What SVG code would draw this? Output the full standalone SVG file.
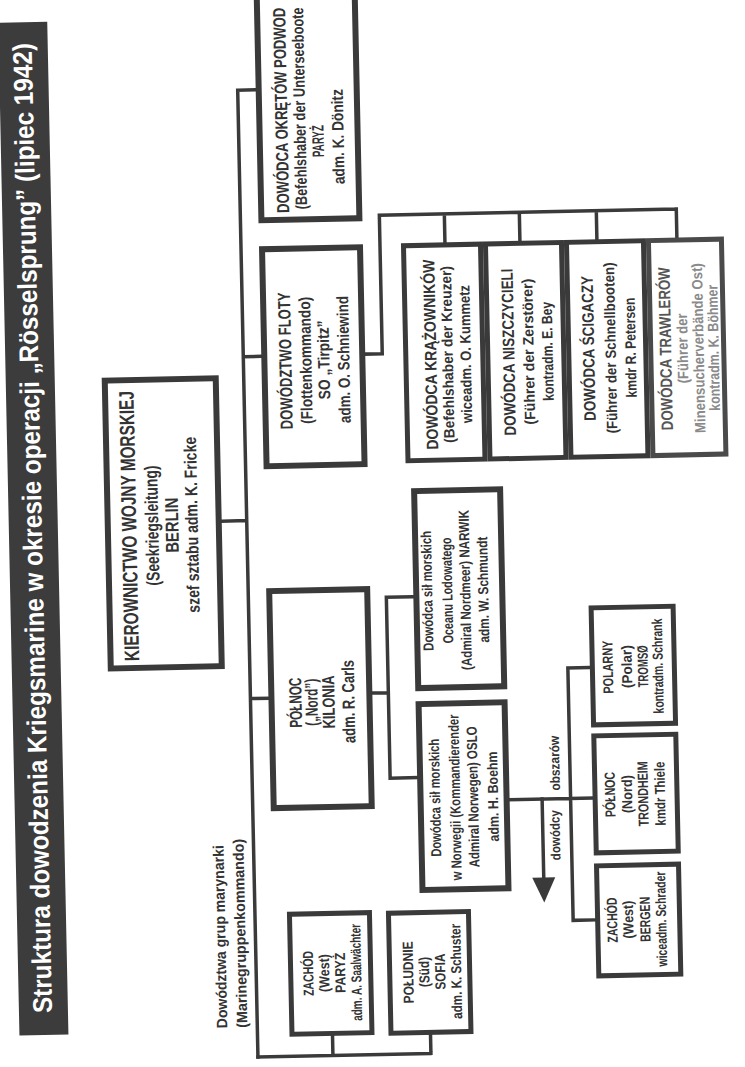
<svg xmlns="http://www.w3.org/2000/svg" width="745" height="1067" viewBox="0 0 745 1067">
<style>
.bx{fill:#fff;stroke:#3a3a3a;stroke-width:6}
.sb{fill:#fff;stroke:#3a3a3a;stroke-width:5}
.ln{fill:none;stroke:#3a3a3a;stroke-width:3.5;stroke-linecap:square;stroke-linejoin:miter}
text{font-family:"Liberation Sans Narrow","Liberation Sans",Arial,sans-serif;font-weight:bold;fill:#333;text-anchor:middle;dominant-baseline:central}
.s19{font-size:21px}.s17{font-size:18.5px}.s16{font-size:17.5px}.s15{font-size:16.5px}.s14{font-size:15px}.s13{font-size:14.5px}.s12{font-size:13.5px}
.st{text-anchor:start}
.fade{fill:#8a8a8a}
.title{font-size:27px;fill:#fff}
</style>
<rect width="745" height="1067" fill="#fff"/>
<g transform="rotate(-1.2 372 533)">
<g id="title">
<rect x="9" y="15" width="49" height="1013" fill="#3c3c3c"/>
<text class="title" transform="translate(33 521) rotate(-90)" textLength="970" lengthAdjust="spacingAndGlyphs">Struktura dowodzenia Kriegsmarine w okresie operacji „Rösselsprung” (lipiec 1942)</text>
</g>
<g id="connectors">
<path class="ln" d="M222 518H247M247 87.5V1054.5M247 87.5H265M247 354H265M247 696H265"/>
<path class="ln" d="M247 1054.5H420M322 1054.5V1034M420 1054.5V1035"/>
<path class="ln" d="M369 354H386V215.5H683M451 215.5V244M526 215.5V244M603 215.5V244M683 215.5V244"/>
<path class="ln" d="M368 693H385M385 597.5V778.5M385 597.5H412M385 778.5H412"/>
<path class="ln" d="M504 802.5H588M565 672V924.5M565 672H587M565 924.5H587"/>
<path class="ln" d="M536.5 802.5V884"/>
<polygon points="525,881 548,881 536.5,906" fill="#3a3a3a"/>
</g>
<g id="label-grupy">
<text class="s14 st" transform="translate(211.5 1025) rotate(-90)" textLength="183" lengthAdjust="spacingAndGlyphs">Dowództwa grup marynarki</text>
<text class="s14 st" transform="translate(231.5 1025) rotate(-90)" textLength="189" lengthAdjust="spacingAndGlyphs">(Marinegruppenkommando)</text>
</g>
<g id="skl">
<rect class="bx" x="108" y="375" width="111" height="288"/>
<text class="s19" transform="translate(129 521) rotate(-90)" textLength="270" lengthAdjust="spacingAndGlyphs">KIEROWNICTWO WOJNY MORSKIEJ</text>
<text class="s17" transform="translate(152 521) rotate(-90)" textLength="120" lengthAdjust="spacingAndGlyphs">(Seekriegsleitung)</text>
<text class="s17" transform="translate(172 521) rotate(-90)" textLength="55" lengthAdjust="spacingAndGlyphs">BERLIN</text>
<text class="s16" transform="translate(192 521) rotate(-90)" textLength="176" lengthAdjust="spacingAndGlyphs">szef sztabu adm. K. Fricke</text>
</g>
<g id="uboote">
<rect class="bx" x="268" y="-100" width="98" height="318"/>
<text class="s16 st" transform="translate(290 211) rotate(-90)" textLength="205" lengthAdjust="spacingAndGlyphs">DOWÓDCA OKRĘTÓW PODWOD</text>
<text class="s15 st" transform="translate(308 208) rotate(-90)" textLength="202" lengthAdjust="spacingAndGlyphs">(Befehlshaber der Unterseeboote</text>
<text class="s15" transform="translate(326 140) rotate(-90)" textLength="32" lengthAdjust="spacingAndGlyphs">PARYŻ</text>
<text class="s15" transform="translate(346 136) rotate(-90)" textLength="95" lengthAdjust="spacingAndGlyphs">adm. K. Dönitz</text>
</g>
<g id="floty">
<rect class="bx" x="268" y="247" width="98" height="217"/>
<text class="s16" transform="translate(289 359) rotate(-90)" textLength="137" lengthAdjust="spacingAndGlyphs">DOWÓDZTWO FLOTY</text>
<text class="s15" transform="translate(309 359) rotate(-90)" textLength="127" lengthAdjust="spacingAndGlyphs">(Flottenkommando)</text>
<text class="s15" transform="translate(327 359) rotate(-90)" textLength="79" lengthAdjust="spacingAndGlyphs">SO „Tirpitz”</text>
<text class="s15" transform="translate(347 359) rotate(-90)" textLength="127" lengthAdjust="spacingAndGlyphs">adm. O. Schniewind</text>
</g>
<g id="polnoc">
<rect class="bx" x="268" y="589" width="98" height="217"/>
<text class="s16" transform="translate(292 701) rotate(-90)" textLength="50" lengthAdjust="spacingAndGlyphs">PÓŁNOC</text>
<text class="s16" transform="translate(308 701) rotate(-90)" textLength="47" lengthAdjust="spacingAndGlyphs">(„Nord”)</text>
<text class="s16" transform="translate(325 701) rotate(-90)" textLength="53" lengthAdjust="spacingAndGlyphs">KILONIA</text>
<text class="s16" transform="translate(345 701) rotate(-90)" textLength="83" lengthAdjust="spacingAndGlyphs">adm. R. Carls</text>
</g>
<g id="zachod-grupa">
<rect class="sb" x="281.5" y="912.5" width="80" height="120"/>
<text class="s13" transform="translate(299 972) rotate(-90)" textLength="45" lengthAdjust="spacingAndGlyphs">ZACHÓD</text>
<text class="s13" transform="translate(315 972) rotate(-90)" textLength="38" lengthAdjust="spacingAndGlyphs">(West)</text>
<text class="s13" transform="translate(331 972) rotate(-90)" textLength="40" lengthAdjust="spacingAndGlyphs">PARYŻ</text>
<text class="s13" transform="translate(347 972) rotate(-90)" textLength="97" lengthAdjust="spacingAndGlyphs">adm. A. Saalwächter</text>
</g>
<g id="poludnie">
<rect class="sb" x="380.5" y="913.5" width="80" height="120"/>
<text class="s13" transform="translate(399 973) rotate(-90)" textLength="62" lengthAdjust="spacingAndGlyphs">POŁUDNIE</text>
<text class="s13" transform="translate(415 973) rotate(-90)" textLength="30" lengthAdjust="spacingAndGlyphs">(Süd)</text>
<text class="s13" transform="translate(431 973) rotate(-90)" textLength="36" lengthAdjust="spacingAndGlyphs">SOFIA</text>
<text class="s13" transform="translate(447 973) rotate(-90)" textLength="95" lengthAdjust="spacingAndGlyphs">adm. K. Schuster</text>
</g>
<g id="narvik">
<rect class="bx" x="415" y="492" width="86" height="197"/>
<text class="s13" transform="translate(426 592) rotate(-90)" textLength="120" lengthAdjust="spacingAndGlyphs">Dowódca sił morskich</text>
<text class="s13" transform="translate(446 592) rotate(-90)" textLength="106" lengthAdjust="spacingAndGlyphs">Oceanu Lodowatego</text>
<text class="s13" transform="translate(464 592) rotate(-90)" textLength="160" lengthAdjust="spacingAndGlyphs">(Admiral Nordmeer) NARWIK</text>
<text class="s13" transform="translate(482 592) rotate(-90)" textLength="106" lengthAdjust="spacingAndGlyphs">adm. W. Schmundt</text>
</g>
<g id="oslo">
<rect class="bx" x="415" y="705" width="86" height="186"/>
<text class="s13" transform="translate(429.5 799) rotate(-90)" textLength="118" lengthAdjust="spacingAndGlyphs">Dowódca sił morskich</text>
<text class="s13" transform="translate(449.5 799) rotate(-90)" textLength="166" lengthAdjust="spacingAndGlyphs">w Norwegii (Kommandierender</text>
<text class="s13" transform="translate(467.5 799) rotate(-90)" textLength="141" lengthAdjust="spacingAndGlyphs">Admiral Norwegen) OSLO</text>
<text class="s13" transform="translate(487.5 799) rotate(-90)" textLength="90" lengthAdjust="spacingAndGlyphs">adm. H. Boehm</text>
</g>
<g id="label-dowodcy">
<text class="s12" transform="translate(550 767) rotate(-90)" textLength="55" lengthAdjust="spacingAndGlyphs">obszarów</text>
<text class="s12" transform="translate(549 839) rotate(-90)" textLength="50" lengthAdjust="spacingAndGlyphs">dowódcy</text>
</g>
<g id="polarny">
<rect class="sb" x="589.5" y="612.5" width="82" height="117"/>
<text class="s13" transform="translate(605 672) rotate(-90)" textLength="53" lengthAdjust="spacingAndGlyphs">POLARNY</text>
<text class="s13" transform="translate(624 672) rotate(-90)" textLength="43" lengthAdjust="spacingAndGlyphs">(Polar)</text>
<text class="s13" transform="translate(640 672) rotate(-90)" textLength="42" lengthAdjust="spacingAndGlyphs">TROMSØ</text>
<text class="s13" transform="translate(655 672) rotate(-90)" textLength="95" lengthAdjust="spacingAndGlyphs">kontradm. Schrank</text>
</g>
<g id="nord">
<rect class="sb" x="589.5" y="740.5" width="82" height="117"/>
<text class="s13" transform="translate(604.5 799.5) rotate(-90)" textLength="45" lengthAdjust="spacingAndGlyphs">PÓŁNOC</text>
<text class="s13" transform="translate(621.5 799.5) rotate(-90)" textLength="38" lengthAdjust="spacingAndGlyphs">(Nord)</text>
<text class="s13" transform="translate(637.5 799.5) rotate(-90)" textLength="65" lengthAdjust="spacingAndGlyphs">TRONDHEIM</text>
<text class="s13" transform="translate(654.5 799.5) rotate(-90)" textLength="64" lengthAdjust="spacingAndGlyphs">kmdr Thiele</text>
</g>
<g id="west">
<rect class="sb" x="589.5" y="870.5" width="82" height="110"/>
<text class="s13" transform="translate(604 925) rotate(-90)" textLength="45" lengthAdjust="spacingAndGlyphs">ZACHÓD</text>
<text class="s13" transform="translate(620 925) rotate(-90)" textLength="38" lengthAdjust="spacingAndGlyphs">(West)</text>
<text class="s13" transform="translate(637 925) rotate(-90)" textLength="45" lengthAdjust="spacingAndGlyphs">BERGEN</text>
<text class="s13" transform="translate(653 925) rotate(-90)" textLength="95" lengthAdjust="spacingAndGlyphs">wiceadm. Schrader</text>
</g>
<g id="krazowniki">
<rect class="sb" x="409.5" y="246.5" width="77" height="215"/>
<text class="s15" transform="translate(434 356) rotate(-90)" textLength="190" lengthAdjust="spacingAndGlyphs">DOWÓDCA KRĄŻOWNIKÓW</text>
<text class="s14" transform="translate(451 356) rotate(-90)" textLength="177" lengthAdjust="spacingAndGlyphs">(Befehlshaber der Kreuzer)</text>
<text class="s14" transform="translate(469 356) rotate(-90)" textLength="138" lengthAdjust="spacingAndGlyphs">wiceadm. O. Kummetz</text>
</g>
<g id="niszczyciele">
<rect class="sb" x="491.5" y="246.5" width="76" height="215"/>
<text class="s15" transform="translate(512 355) rotate(-90)" textLength="167" lengthAdjust="spacingAndGlyphs">DOWÓDCA NISZCZYCIELI</text>
<text class="s14" transform="translate(532 355) rotate(-90)" textLength="146" lengthAdjust="spacingAndGlyphs">(Führer der Zerstörer)</text>
<text class="s14" transform="translate(551 355) rotate(-90)" textLength="99" lengthAdjust="spacingAndGlyphs">kontradm. E. Bey</text>
</g>
<g id="scigacze">
<rect class="sb" x="572.5" y="246.5" width="77" height="215"/>
<text class="s15" transform="translate(592 353) rotate(-90)" textLength="145" lengthAdjust="spacingAndGlyphs">DOWÓDCA ŚCIGACZY</text>
<text class="s14" transform="translate(614 353) rotate(-90)" textLength="171" lengthAdjust="spacingAndGlyphs">(Führer der Schnellbooten)</text>
<text class="s14" transform="translate(634 353) rotate(-90)" textLength="100" lengthAdjust="spacingAndGlyphs">kmdr R. Petersen</text>
</g>
<g id="trawlery">
<rect class="sb" x="654.5" y="246.5" width="73" height="215" style="stroke:#4a4a4a"/>
<text class="s15" style="fill:#555" transform="translate(669 355) rotate(-90)" textLength="163" lengthAdjust="spacingAndGlyphs">DOWÓDCA TRAWLERÓW</text>
<text class="s14 fade" transform="translate(686 355) rotate(-90)" textLength="70" lengthAdjust="spacingAndGlyphs">(Führer der</text>
<text class="s14 fade" transform="translate(702 355) rotate(-90)" textLength="170" lengthAdjust="spacingAndGlyphs">Minensucherverbände Ost)</text>
<text class="s14 fade" transform="translate(717 355) rotate(-90)" textLength="126" lengthAdjust="spacingAndGlyphs">kontradm. K. Böhmer</text>
</g>
</g>
</svg>
